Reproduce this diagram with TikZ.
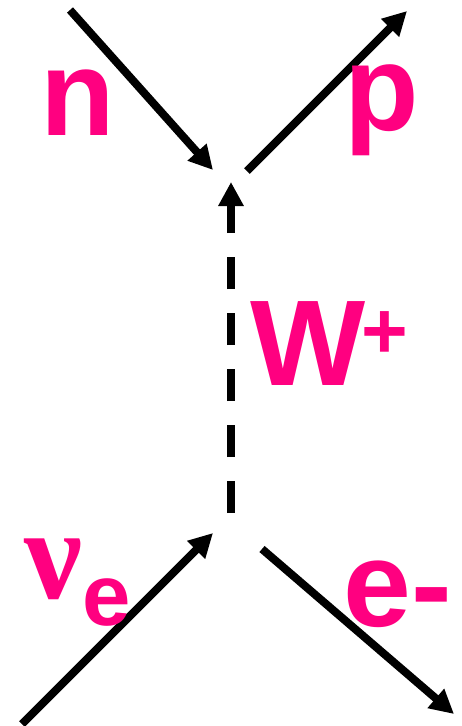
\documentclass[tikz,border=0pt]{standalone}
\usepackage{fontspec}
\setmainfont{Liberation Sans}
\newfontfamily\greekfont{Liberation Serif}
\usetikzlibrary{arrows.meta}
\definecolor{hotpink}{HTML}{FF0080}

\begin{document}
\begin{tikzpicture}[x=1pt, y=-1pt,
  fermion/.style={line width=8pt, -{Triangle[length=24pt,width=24pt]}},
  boson/.style={fermion, dash pattern=on 32pt off 24pt},
  particle/.style={inner sep=0pt, anchor=base west, text=hotpink,
    font=\fontsize{122}{122}\selectfont\bfseries}]
  \useasboundingbox (0,0) rectangle (461,726);
  % ends of the four legs and of the W line
  \coordinate (nstart) at (70,10);
  \coordinate (nend) at (213,170);
  \coordinate (pstart) at (247,171);
  \coordinate (pend) at (407,11);
  \coordinate (wstart) at (231,513);
  \coordinate (wend) at (231,182);
  \coordinate (nustart) at (22,724);
  \coordinate (nuend) at (213,533);
  \coordinate (estart) at (262,549);
  \coordinate (eend) at (454,714);
  \draw[fermion] (nstart) -- (nend);
  \draw[fermion] (pstart) -- (pend);
  \draw[boson] (wstart) -- (wend);
  \draw[fermion] (nustart) -- (nuend);
  \draw[fermion] (estart) -- (eend);
  % labels
  \node[particle] (nlabel) at (40,135) {n};
  \node[particle] (plabel) at (344,130) {p};
  \node[particle] (wlabel) at (250,385)
    {W\kern-4pt\raisebox{27pt}{\fontsize{80}{80}\selectfont +}};
  \node[particle] (nulabel) at (24,598)
    {{\greekfont\fontsize{130}{130}\selectfont ν}\raisebox{-27pt}{\fontsize{87}{87}\selectfont e}};
  \node[particle] (elabel) at (343,626) {e-};
\end{tikzpicture}
\end{document}
